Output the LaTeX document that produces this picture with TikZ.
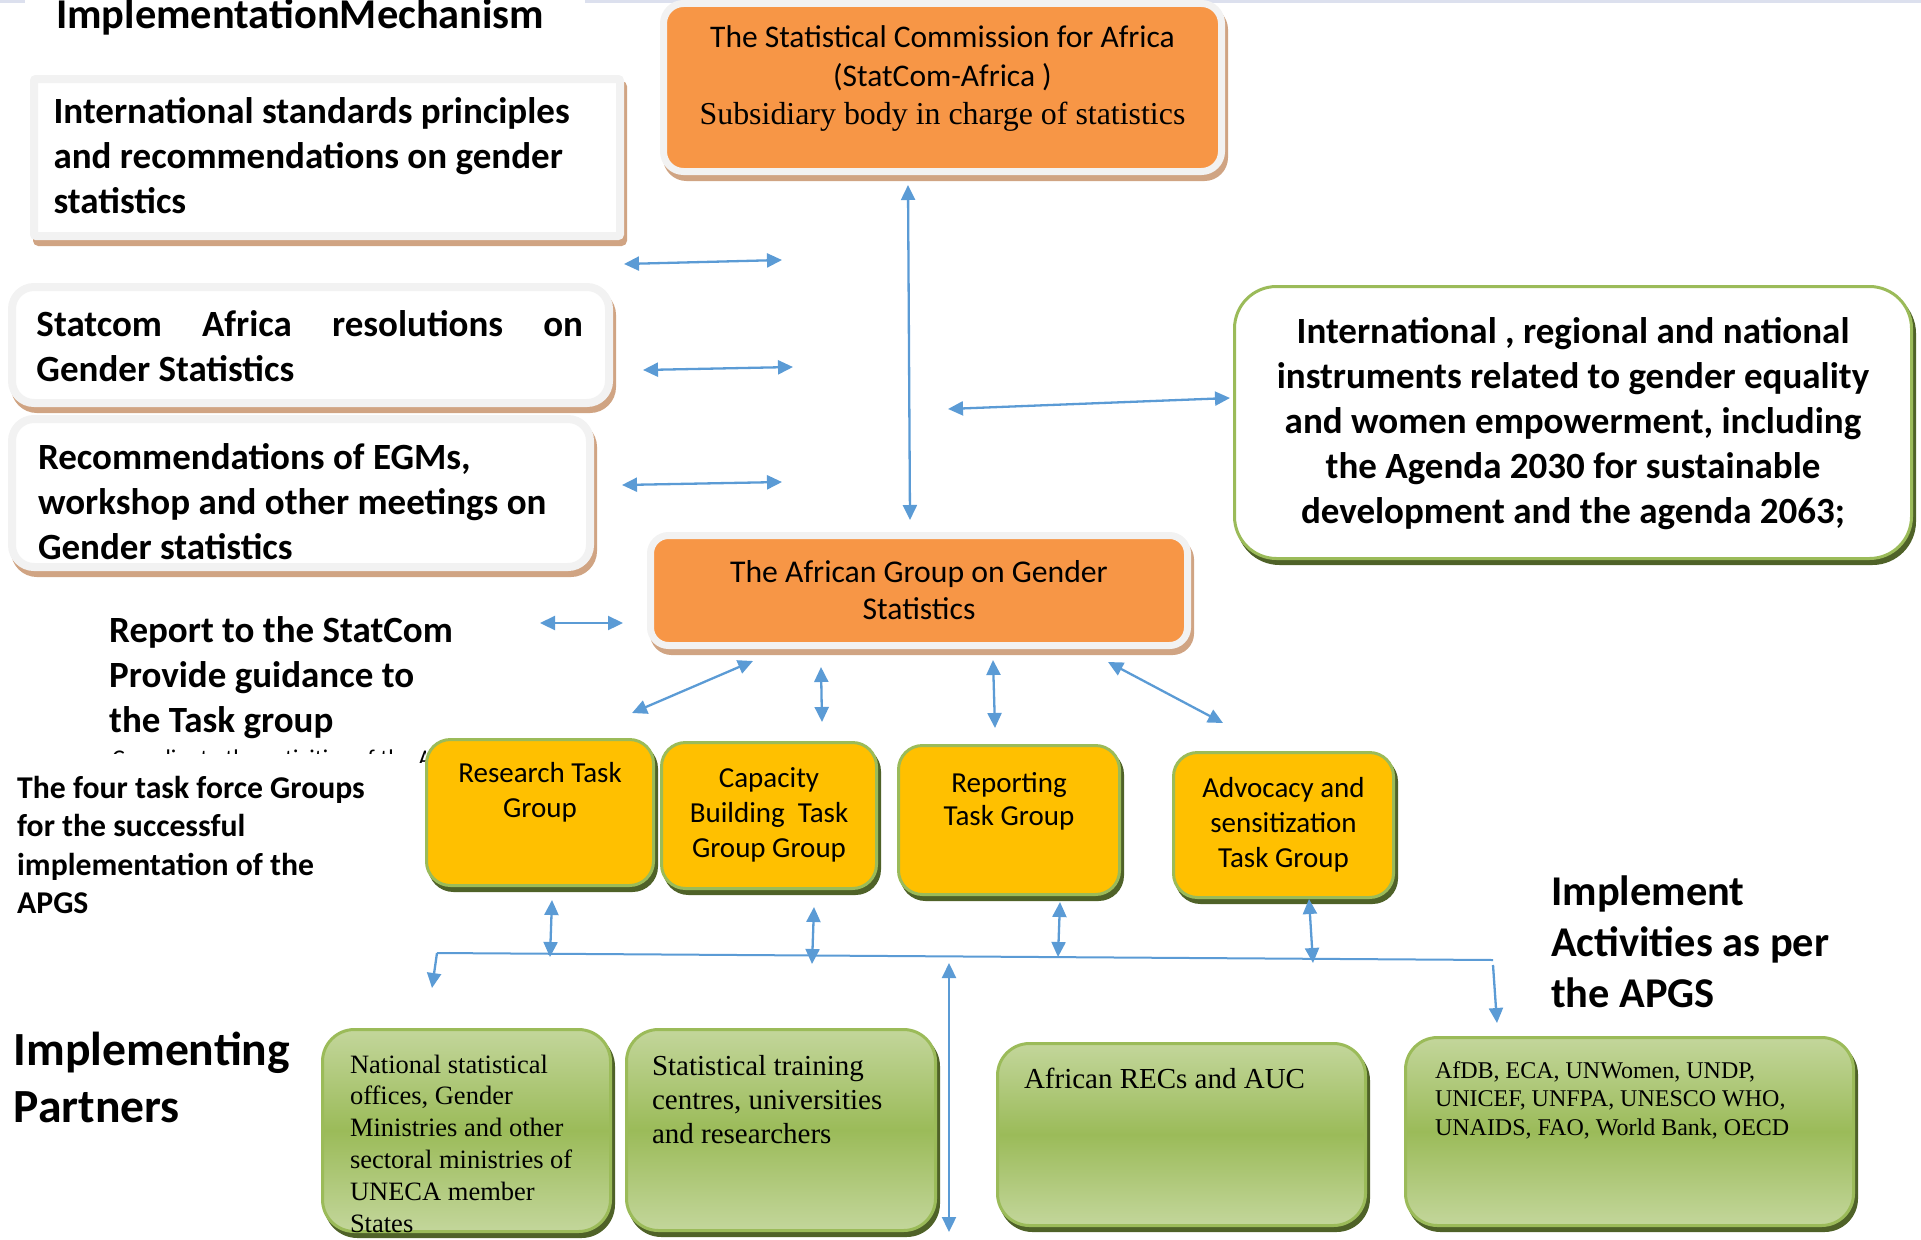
\documentclass[tikz,border=0pt]{standalone}
\usepackage{fontspec}
\setmainfont{Carlito}
\newfontfamily\serif{Liberation Serif}
\usetikzlibrary{arrows.meta,shadows}
\definecolor{orangeC}{HTML}{F79646}
\definecolor{grayB}{HTML}{F2F2F2}
\definecolor{tanC}{HTML}{D0A483}
\definecolor{yellowC}{HTML}{FFC000}
\definecolor{greenB}{HTML}{9BBB59}
\definecolor{greenL}{HTML}{C3D69B}
\definecolor{greenM}{HTML}{9BBB59}
\definecolor{oliveS}{HTML}{4F6228}
\definecolor{arrowC}{HTML}{5B9BD5}
\definecolor{lineC}{HTML}{DCE0EE}
\newcommand\fs[2]{\fontsize{#1pt}{#2pt}\selectfont}
\newcommand\inbox[5]{\parbox[c][#1pt][t]{#2pt}{#3\rule{0pt}{#4pt}#5\par}}
\newcommand\freetext[2]{\parbox[t]{#1pt}{\raggedright #2\par}}
\begin{document}
\begin{tikzpicture}[x=1pt,y=1pt,
  box/.style={inner sep=0pt, outer sep=0pt},
  tanshadow/.style={general shadow={fill=tanC, draw=tanC, shadow xshift=3pt, shadow yshift=-6pt}},
  oliveshadow/.style={general shadow={fill=oliveS, draw=oliveS, shadow xshift=3pt, shadow yshift=-5pt}},
  whitebox/.style={box, fill=white, draw=grayB, line width=8pt, rounded corners=22pt, tanshadow},
  orangebox/.style={box, fill=orangeC, draw=grayB, line width=7pt, rounded corners=20pt, tanshadow},
  yellowbox/.style={box, fill=yellowC, draw=greenB, line width=3pt, rounded corners=24pt, oliveshadow},
  greenbox/.style={box, top color=greenL, bottom color=greenL, middle color=greenM, draw=greenB, line width=3pt, rounded corners=32pt, oliveshadow},
  rightbox/.style={box, fill=white, draw=greenB, line width=3pt, rounded corners=42pt, oliveshadow},
  arr/.style={draw=arrowC, line width=2.3pt, {Triangle[length=15pt,width=14pt]}-{Triangle[length=15pt,width=14pt]}},
  arrone/.style={draw=arrowC, line width=2.3pt, -{Triangle[length=15pt,width=14pt]}},
  conn/.style={draw=arrowC, line width=2pt},
  freenode/.style={anchor=base west, inner sep=0pt}
]
\useasboundingbox (0,0) rectangle (1921,-1239);
\draw[lineC, line width=3pt] (0,-1.5) -- (25,-1.5) (585,-1.5) -- (1921,-1.5);

% title and free texts
\node[freenode] (title) at (56,-29) {\fs{42.4}{50}\bfseries ImplementationMechanism};
\node[freenode] (report) at (109,-642) {\freetext{420}{\fs{37}{45}\bfseries Report to the StatCom\\Provide guidance to\\the Task group}};
\begin{scope}
\clip (100,-744) rectangle (412,-753.5) (412,-740) rectangle (425,-762);
\node[freenode] (hidden) at (112,-766) {\fs{24}{29}Coordinate the activities of the A};
\end{scope}
\node[freenode] (fourtask) at (17,-798) {\freetext{400}{\fs{31.7}{38.5}\bfseries The four task force Groups\\for the successful\\implementation of the\\APGS}};
\node[freenode] (partners) at (13.5,-1065) {\freetext{300}{\fs{47.6}{57}\bfseries Implementing\\Partners}};
\node[freenode] (implement) at (1551,-905) {\freetext{360}{\fs{42.4}{51}\bfseries Implement\\Activities as per\\the APGS}};

% orange boxes
\node[orangebox, minimum width=558pt, minimum height=168pt] (statcom) at (942.5,-87.5)
  {\inbox{168}{558}{\centering\fs{31.5}{38.5}}{44}{The Statistical Commission for Africa\\(StatCom-Africa )\\{\serif\fs{31.9}{38.5}Subsidiary body in charge of statistics}}};
\node[orangebox, rounded corners=18pt, minimum width=537pt, minimum height=110pt] (agroup) at (919,-590.5)
  {\inbox{110}{537}{\centering\fs{31.7}{37}}{46.5}{The African Group on Gender\\Statistics}};

% left white boxes
\node[whitebox, rounded corners=2pt, minimum width=586pt, minimum height=157pt] (stdbox) at (327,-157.5)
  {\inbox{157}{586}{\fs{37}{45}\bfseries\leftskip=19.6pt\rightskip=0pt plus 1fil}{44}{International standards principles\\and recommendations on gender\\statistics}};
\node[whitebox, minimum width=597pt, minimum height=116pt] (resbox) at (310.5,-345)
  {\inbox{116}{597}{\fs{37}{45}\bfseries\leftskip=24.5pt\rightskip=26pt}{49}{Statcom Africa resolutions on\linebreak Gender Statistics}};
\node[whitebox, minimum width=578pt, minimum height=148pt] (egmbox) at (301,-493)
  {\inbox{148}{578}{\fs{37}{45}\bfseries\leftskip=26pt\rightskip=0pt plus 1fil}{50}{Recommendations of EGMs,\\workshop and other meetings on\\Gender statistics}};

% right box
\node[rightbox, minimum width=677pt, minimum height=272pt] (instbox) at (1573,-422.5)
  {\inbox{272}{677}{\centering\fs{37}{45}\bfseries}{57}{International , regional and national\\instruments related to gender equality\\and women empowerment, including\\the Agenda 2030 for sustainable\\development and the agenda 2063;}};

% task groups
\node[yellowbox, minimum width=227pt, minimum height=146pt] (research) at (540,-812.5)
  {\inbox{146}{227}{\centering\fs{29}{35}}{42.5}{Research Task\\Group}};
\node[yellowbox, minimum width=215pt, minimum height=146pt] (capacity) at (769,-815.5)
  {\inbox{146}{215}{\centering\fs{29}{35}}{44.5}{Capacity\\Building\ \ Task\\Group Group}};
\node[yellowbox, minimum width=221pt, minimum height=149pt] (reporting) at (1009,-820)
  {\inbox{149}{221}{\centering\fs{29}{33.5}}{46.5}{Reporting\\Task Group}};
\node[yellowbox, minimum width=220pt, minimum height=145pt] (advocacy) at (1283.5,-825)
  {\inbox{145}{220}{\centering\fs{29}{35}}{44.5}{Advocacy and\\sensitization\\Task Group}};

% partners
\node[greenbox, minimum width=288pt, minimum height=202pt] (nso) at (466.5,-1130.5)
  {\inbox{202}{288}{\serif\fs{26.5}{31.8}\leftskip=27.5pt\rightskip=0pt plus 1fil}{43.5}{National statistical\\offices, Gender\\Ministries and other\\sectoral ministries of\\UNECA member\\States}};
\node[greenbox, minimum width=309pt, minimum height=201pt] (training) at (781,-1130)
  {\inbox{201}{309}{\serif\fs{29}{34}\leftskip=25.5pt\rightskip=0pt plus 1fil}{45.5}{Statistical training\\centres, universities\\and researchers}};
\node[greenbox, minimum width=368pt, minimum height=182pt] (recs) at (1181.5,-1134.5)
  {\inbox{182}{368}{\serif\fs{29}{34}\leftskip=26.5pt\rightskip=0pt plus 1fil}{44.5}{African RECs and AUC}};
\node[greenbox, minimum width=448pt, minimum height=188pt] (agencies) at (1629.5,-1131.5)
  {\inbox{188}{448}{\serif\fs{24}{28.5}\leftskip=29.5pt\rightskip=0pt plus 1fil}{40.5}{AfDB, ECA, UNWomen, UNDP,\\UNICEF, UNFPA, UNESCO WHO,\\UNAIDS, FAO, World Bank, OECD}};

% arrow end points
\coordinate (aA1) at (624,-264);   \coordinate (aA2) at (782,-260);
\coordinate (aB1) at (643,-370);   \coordinate (aB2) at (793,-367);
\coordinate (aC1) at (622,-485);   \coordinate (aC2) at (782,-482);
\coordinate (aV1) at (908,-185);   \coordinate (aV2) at (910,-520);
\coordinate (aR1) at (948,-409);   \coordinate (aR2) at (1230,-398);
\coordinate (aP1) at (540,-623);   \coordinate (aP2) at (623,-623);
\coordinate (t11) at (753,-661);   \coordinate (t12) at (632,-713);
\coordinate (t21) at (821,-667);   \coordinate (t22) at (822,-722);
\coordinate (t31) at (993,-660);   \coordinate (t32) at (995,-728);
\coordinate (t41) at (1108,-662);  \coordinate (t42) at (1223,-723);
\coordinate (b11) at (552,-900);   \coordinate (b12) at (550,-957);
\coordinate (b21) at (814,-907);   \coordinate (b22) at (812,-964);
\coordinate (b31) at (1060,-902);  \coordinate (b32) at (1058,-957);
\coordinate (b41) at (1309,-899);  \coordinate (b42) at (1313,-963);
\coordinate (h1) at (437,-953);    \coordinate (h2) at (1493,-960);
\coordinate (d1) at (432,-988);
\coordinate (d2a) at (1493,-965);  \coordinate (d2b) at (1497,-1023);
\coordinate (v1) at (949,-963);    \coordinate (v2) at (949,-1232);

\draw[arr] (aA1) -- (aA2);
\draw[arr] (aB1) -- (aB2);
\draw[arr] (aC1) -- (aC2);
\draw[arr] (aV1) -- (aV2);
\draw[arr] (aR1) -- (aR2);
\draw[arr] (aP1) -- (aP2);
\draw[arr] (t11) -- (t12);
\draw[arr] (t21) -- (t22);
\draw[arr] (t31) -- (t32);
\draw[arr] (t41) -- (t42);
\draw[arr] (b11) -- (b12);
\draw[arr] (b21) -- (b22);
\draw[arr] (b31) -- (b32);
\draw[arr] (b41) -- (b42);
\draw[conn] (h1) -- (h2);
\draw[arrone] (h1) -- (d1);
\draw[arrone] (d2a) -- (d2b);
\draw[arr] (v1) -- (v2);
\end{tikzpicture}
\end{document}
